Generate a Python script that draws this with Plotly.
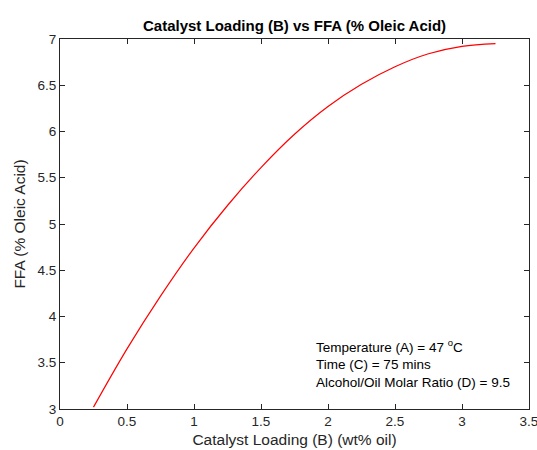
import plotly.graph_objects as go

# Catalyst loading (wt% oil) and predicted FFA (% oleic acid)
catalyst_loading = [0.25, 0.5, 0.75, 1.0, 1.25, 1.5, 1.75, 2.0, 2.25, 2.5, 2.75, 3.0, 3.25]
ffa = [3.02, 3.65, 4.22, 4.74, 5.20, 5.61, 5.97, 6.27, 6.51, 6.70, 6.84, 6.92, 6.95]

x_ticks = [0, 0.5, 1, 1.5, 2, 2.5, 3, 3.5]
y_ticks = [3, 3.5, 4, 4.5, 5, 5.5, 6, 6.5, 7]

conditions = [
    "Temperature (A) = 47 <sup>o</sup>C",
    "Time (C) = 75 mins",
    "Alcohol/Oil Molar Ratio (D) = 9.5",
]

font_family = "Liberation Sans, Arial, sans-serif"
dark = "#262626"

fig = go.Figure()
fig.add_trace(go.Scatter(
    x=catalyst_loading, y=ffa, mode="lines",
    line=dict(color="#ff0000", width=1.2, shape="spline"),
    showlegend=False,
))

axis_common = dict(
    showgrid=False, zeroline=False, showline=True, linecolor=dark, linewidth=1,
    mirror="ticks", ticks="inside", ticklen=5, tickwidth=1, tickcolor=dark,
    tickfont=dict(family=font_family, size=13.5, color=dark),
    ticklabeloverflow="allow", automargin=False,
)

fig.update_layout(
    width=537, height=450,
    margin=dict(l=60, r=8, t=39, b=41),
    paper_bgcolor="white", plot_bgcolor="white",
    title=dict(
        text="<b>Catalyst Loading (B) vs FFA (% Oleic Acid)</b>",
        x=0.5485, xanchor="center", y=0.943, yanchor="middle",
        font=dict(family=font_family, size=15, color="black"),
    ),
    xaxis=dict(
        range=[0, 3.5], tickvals=x_ticks, ticktext=[f"{v:g}" for v in x_ticks],
        title=dict(text="Catalyst Loading (B) (wt% oil)", standoff=5,
                   font=dict(family=font_family, size=15.5, color=dark)),
        **axis_common,
    ),
    yaxis=dict(
        range=[3, 7], tickvals=y_ticks, ticktext=[f"{v:g}" for v in y_ticks],
        title=dict(text="FFA (% Oleic Acid)", standoff=8,
                   font=dict(family=font_family, size=15.5, color=dark)),
        **axis_common,
    ),
    annotations=[dict(
        text="<br>".join(conditions), xref="paper", yref="paper",
        x=0.542, y=0.122, xanchor="left", yanchor="middle", align="left",
        showarrow=False, font=dict(family=font_family, size=13.5, color="black"),
    )],
)

fig.write_html("out.html")
